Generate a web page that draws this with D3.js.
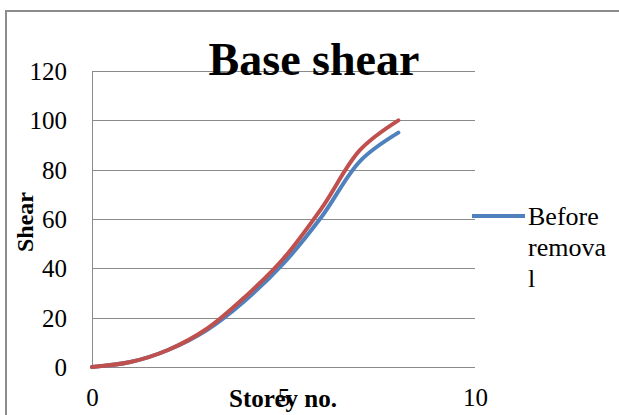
<!DOCTYPE html>
<html>
<head>
<meta charset="utf-8">
<script src="https://cdn.jsdelivr.net/npm/d3@7"></script>
<style>
  html, body { margin: 0; padding: 0; background: #fff; }
  svg { display: block; }
  text { font-family: "Liberation Serif", "Times New Roman", serif; fill: #000; }
</style>
</head>
<body>
<svg id="chart" width="619" height="415"></svg>
<script>
// Storey number along x, base shear along y
const storeys = [0, 1, 2, 3, 4, 5, 6, 7, 8];
const shearBefore = [0, 2, 7, 15, 27, 42, 61, 83.5, 95];
const shearAfter  = [0, 2, 7, 15.5, 28.5, 44, 64.5, 88, 100];
const seriesNames = ["Before removal", "After removal"];
const yTicks = [0, 20, 40, 60, 80, 100, 120];
const xTicks = [0, 5, 10];

const svg = d3.select("#chart");

// outer chart frame (runs off the right and bottom edges)
svg.append("rect")
  .attr("x", 6).attr("y", 11)
  .attr("width", 640).attr("height", 440)
  .attr("fill", "none")
  .attr("stroke", "#8c8c8c")
  .attr("stroke-width", 2);

const x = d3.scaleLinear().domain([0, 10]).range([92, 475]);
const y = d3.scaleLinear().domain([0, 120]).range([367, 71]);

// horizontal gridlines
svg.append("g")
  .selectAll("line")
  .data(yTicks)
  .join("line")
  .attr("x1", x(0)).attr("x2", x(10))
  .attr("y1", d => Math.round(y(d)) + 0.5)
  .attr("y2", d => Math.round(y(d)) + 0.5)
  .attr("stroke", "#8a8a8a")
  .attr("stroke-width", 1);

// y axis
const yAxis = svg.append("g")
  .attr("transform", `translate(${x(0)},0)`)
  .call(d3.axisLeft(y).tickValues(yTicks).tickSize(0).tickPadding(25));
yAxis.select(".domain").attr("stroke", "#8a8a8a");
yAxis.selectAll("text")
  .attr("font-size", 25)
  .attr("fill", "#000")
  .attr("dy", "0.34em");

// x axis labels
const xAxis = svg.append("g")
  .attr("transform", `translate(0,${y(0)})`)
  .call(d3.axisBottom(x).tickValues(xTicks).tickSize(0).tickPadding(0));
xAxis.select(".domain").remove();
xAxis.selectAll("text")
  .attr("font-size", 25)
  .attr("fill", "#000")
  .attr("dy", null)
  .attr("y", 39);

// title
svg.append("text")
  .attr("x", 314).attr("y", 75)
  .attr("text-anchor", "middle")
  .attr("font-size", 46)
  .attr("font-weight", "bold")
  .text("Base shear");

// axis titles
svg.append("text")
  .attr("x", 283).attr("y", 407)
  .attr("text-anchor", "middle")
  .attr("font-size", 25)
  .attr("font-weight", "bold")
  .text("Storey no.");

svg.append("text")
  .attr("transform", "translate(33,222) rotate(-90)")
  .attr("text-anchor", "middle")
  .attr("font-size", 24)
  .attr("font-weight", "bold")
  .text("Shear");

// smoothed series lines
const line = d3.line()
  .x((d, i) => x(storeys[i]))
  .y(d => y(d))
  .curve(d3.curveCatmullRom.alpha(0.5));

const series = [
  { name: seriesNames[0], values: shearBefore, color: "#4f81bd" },
  { name: seriesNames[1], values: shearAfter, color: "#c0504d" }
];

svg.append("g")
  .selectAll("path")
  .data(series)
  .join("path")
  .attr("d", d => line(d.values))
  .attr("fill", "none")
  .attr("stroke", d => d.color)
  .attr("stroke-width", 4)
  .attr("stroke-linecap", "round")
  .attr("stroke-linejoin", "round");

// legend (first entry, wrapped)
const legend = svg.append("g");
legend.append("line")
  .attr("x1", 472).attr("x2", 525)
  .attr("y1", 216).attr("y2", 216)
  .attr("stroke", series[0].color)
  .attr("stroke-width", 4);
const legendLines = ["Before", "remova", "l"];
legend.selectAll("text")
  .data(legendLines)
  .join("text")
  .attr("x", 528)
  .attr("y", (d, i) => 225 + i * 31)
  .attr("font-size", 26)
  .text(d => d);
</script>
</body>
</html>
